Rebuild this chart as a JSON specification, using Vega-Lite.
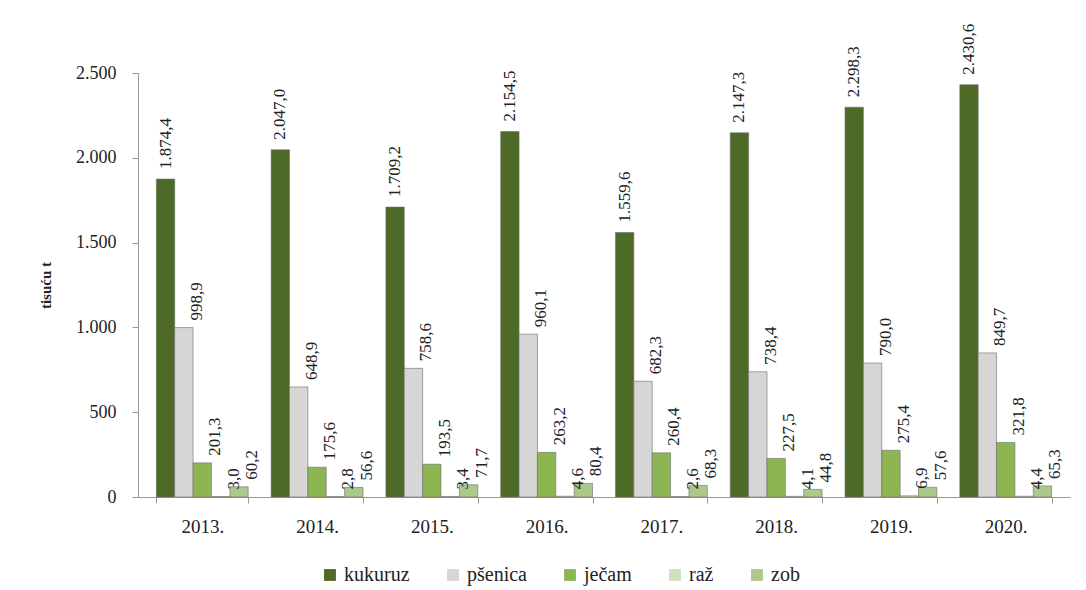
{
  "$schema": "https://vega.github.io/schema/vega-lite/v6.json",
  "autosize": {"type": "none"},
  "width": 932,
  "height": 424,
  "padding": {"left": 138, "top": 73, "right": 16, "bottom": 93},
  "background": "white",
  "config": {
    "locale": {"number": {"decimal": ",", "thousands": ".", "grouping": [3], "currency": ["", ""]}},
    "font": "Liberation Serif",
    "view": {"stroke": null}
  },
  "data": {"values": [
    {"year": "2013.", "crop": "kukuruz", "v": 1874.4},
    {"year": "2013.", "crop": "pšenica", "v": 998.9},
    {"year": "2013.", "crop": "ječam", "v": 201.3},
    {"year": "2013.", "crop": "raž", "v": 3.0},
    {"year": "2013.", "crop": "zob", "v": 60.2},
    {"year": "2014.", "crop": "kukuruz", "v": 2047.0},
    {"year": "2014.", "crop": "pšenica", "v": 648.9},
    {"year": "2014.", "crop": "ječam", "v": 175.6},
    {"year": "2014.", "crop": "raž", "v": 2.8},
    {"year": "2014.", "crop": "zob", "v": 56.6},
    {"year": "2015.", "crop": "kukuruz", "v": 1709.2},
    {"year": "2015.", "crop": "pšenica", "v": 758.6},
    {"year": "2015.", "crop": "ječam", "v": 193.5},
    {"year": "2015.", "crop": "raž", "v": 3.4},
    {"year": "2015.", "crop": "zob", "v": 71.7},
    {"year": "2016.", "crop": "kukuruz", "v": 2154.5},
    {"year": "2016.", "crop": "pšenica", "v": 960.1},
    {"year": "2016.", "crop": "ječam", "v": 263.2},
    {"year": "2016.", "crop": "raž", "v": 4.6},
    {"year": "2016.", "crop": "zob", "v": 80.4},
    {"year": "2017.", "crop": "kukuruz", "v": 1559.6},
    {"year": "2017.", "crop": "pšenica", "v": 682.3},
    {"year": "2017.", "crop": "ječam", "v": 260.4},
    {"year": "2017.", "crop": "raž", "v": 2.6},
    {"year": "2017.", "crop": "zob", "v": 68.3},
    {"year": "2018.", "crop": "kukuruz", "v": 2147.3},
    {"year": "2018.", "crop": "pšenica", "v": 738.4},
    {"year": "2018.", "crop": "ječam", "v": 227.5},
    {"year": "2018.", "crop": "raž", "v": 4.1},
    {"year": "2018.", "crop": "zob", "v": 44.8},
    {"year": "2019.", "crop": "kukuruz", "v": 2298.3},
    {"year": "2019.", "crop": "pšenica", "v": 790.0},
    {"year": "2019.", "crop": "ječam", "v": 275.4},
    {"year": "2019.", "crop": "raž", "v": 6.9},
    {"year": "2019.", "crop": "zob", "v": 57.6},
    {"year": "2020.", "crop": "kukuruz", "v": 2430.6},
    {"year": "2020.", "crop": "pšenica", "v": 849.7},
    {"year": "2020.", "crop": "ječam", "v": 321.8},
    {"year": "2020.", "crop": "raž", "v": 4.4},
    {"year": "2020.", "crop": "zob", "v": 65.3}
  ]},
  "encoding": {
    "x": {
      "field": "year", "type": "nominal", "title": null,
      "scale": {"paddingInner": 0.2, "paddingOuter": 0.16},
      "axis": {"labelAngle": 0, "labelFontSize": 19, "labelColor": "#222", "labelPadding": 14, "domainColor": "#999", "tickColor": "#999", "ticks": true, "tickBand": "extent", "tickSize": 6}
    },
    "xOffset": {"field": "crop", "type": "nominal", "sort": ["kukuruz", "pšenica", "ječam", "raž", "zob"], "scale": {"paddingInner": 0}},
    "y": {
      "field": "v", "type": "quantitative",
      "scale": {"domain": [0, 2500]},
      "axis": {"values": [0, 500, 1000, 1500, 2000, 2500], "format": ",d", "grid": false, "labelFontSize": 18, "labelColor": "#222", "labelPadding": 16, "tickSize": 6, "domainColor": "#999", "tickColor": "#999", "title": "tisuću t", "titleFontSize": 15, "titleFontWeight": "bold", "titleColor": "#222", "titlePadding": 22}
    }
  },
  "layer": [
    {
      "mark": {"type": "bar", "stroke": "#6b6b6b", "strokeWidth": 0.6},
      "encoding": {
        "color": {
          "field": "crop", "type": "nominal",
          "sort": ["kukuruz", "pšenica", "ječam", "raž", "zob"],
          "scale": {"domain": ["kukuruz", "pšenica", "ječam", "raž", "zob"], "range": ["#4d6a26", "#d6d6d6", "#8db653", "#cfe0bd", "#aac98a"]},
          "legend": {"title": null, "orient": "none", "direction": "horizontal", "legendX": 182, "legendY": 492, "symbolType": "square", "symbolSize": 140, "symbolStrokeWidth": 0, "labelFontSize": 20, "labelColor": "#222", "columnPadding": 33, "labelOffset": 4}
        }
      }
    },
    {
      "transform": [{"filter": "datum.crop === 'kukuruz'"}],
      "mark": {"type": "text", "angle": -90, "align": "left", "baseline": "middle", "dx": 10, "dy": 0, "fontSize": 17, "color": "#222"},
      "encoding": {"text": {"field": "v", "type": "quantitative", "format": ",.1f"}}
    },
    {
      "transform": [{"filter": "datum.crop !== 'kukuruz'"}],
      "mark": {"type": "text", "angle": -90, "align": "left", "baseline": "middle", "dx": 7, "dy": 13, "fontSize": 17, "color": "#222"},
      "encoding": {"text": {"field": "v", "type": "quantitative", "format": ",.1f"}}
    }
  ]
}
